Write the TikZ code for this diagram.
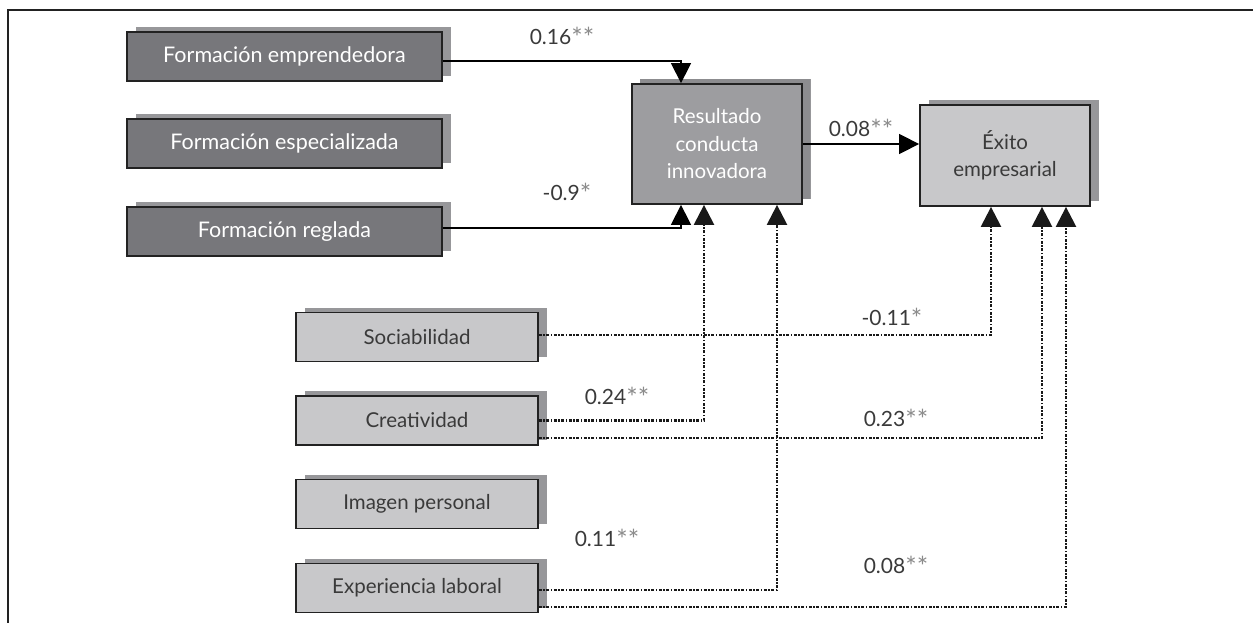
\documentclass[tikz,border=0pt]{standalone}
\usepackage{fontspec}
\setmainfont{Lato}
\usetikzlibrary{arrows.meta,calc,shadows}
\definecolor{darkfill}{HTML}{77777B}
\definecolor{midfill}{HTML}{9D9DA0}
\definecolor{lightfill}{HTML}{C8C8CA}
\definecolor{shade}{HTML}{97979A}
\definecolor{midshade}{HTML}{8C8C8F}
\definecolor{ink}{HTML}{222222}
\definecolor{txt}{HTML}{3A3A3A}
\definecolor{star}{HTML}{8A8A8A}
\newcommand\pcoef[2]{{\color{txt}#1}{\color{star}\raisebox{-2.5pt}{\fontsize{27}{27}\selectfont#2}}}
\begin{document}
\begin{tikzpicture}[x=1pt,y=-1pt,
  basebox/.style={draw=ink, line width=1.8pt, inner sep=0pt, align=center,
    font=\fontsize{20.5}{27.5}\selectfont,
    general shadow={fill=shade, shadow xshift=9pt, shadow yshift=5pt}},
  darkbox/.style={basebox, fill=darkfill, text=white, minimum width=315pt, minimum height=49pt,
    font=\fontsize{21.5}{27.5}\selectfont},
  lightbox/.style={basebox, fill=lightfill, text=txt, minimum width=242pt, minimum height=49pt},
  midbox/.style={basebox, fill=midfill, text=white, minimum width=170pt, minimum height=120pt,
    general shadow={fill=midshade, shadow xshift=8pt, shadow yshift=5pt}},
  exbox/.style={basebox, fill=lightfill, text=txt, minimum width=170pt, minimum height=101pt},
  tip/.style={-{Triangle[width=20pt,length=20pt]}},
  solidlink/.style={tip, draw=black, line width=1.4pt},
  dotlink/.style={tip, draw=black!90, line width=2.4pt,
    dash pattern=on 3pt off 1.5pt on 1.5pt off 1.5pt},
  coeflabel/.style={font=\fontsize{21}{23}\selectfont, inner sep=0pt}
]
\useasboundingbox (0,0) rectangle (1253,623);

% frame
\draw[line width=1.6pt, draw=ink] (8,623) -- (8,10) -- (1253,10);

% training variables
\node[darkbox] (emp) at (284.5,56.5) {Formación emprendedora};
\node[darkbox] (esp) at (284.5,143.5) {Formación especializada};
\node[darkbox] (reg) at (284.5,231.5) {Formación reglada};

% outcomes
\node[midbox] (res) at (717,144) {Resultado\\conducta\\innovadora};
\node[exbox] (exi) at (1005,155.5) {Éxito\\empresarial};

% personal traits
\node[lightbox] (soc) at (417,337) {Sociabilidad};
\node[lightbox] (cre) at (417,420.5) {Creatividad};
\node[lightbox] (ima) at (417,504) {Imagen personal};
\node[lightbox] (exp) at (417,588) {Experiencia laboral};

% solid paths
\draw[solidlink] ([yshift=-4.5pt]emp.east) -| ($(res.north)+(-36,0)$);
\draw[solidlink] ([yshift=3.5pt]reg.east) -| ($(res.south)+(-36,0)$);
\draw[solidlink] (res.east) -- (res.east -| exi.west);

% dotted paths
\draw[dotlink] ([yshift=2pt]soc.east) -| ($(exi.south)+(-14,0)$);
\draw[dotlink] (cre.east) -| ($(res.south)+(-13,0)$);
\draw[dotlink] ([yshift=-17.5pt]cre.east) -| ($(exi.south)+(37,0)$);
\draw[dotlink] ([yshift=-2pt]exp.east) -| ($(res.south)+(60,0)$);
\draw[dotlink] ([yshift=-19pt]exp.east) -| ($(exi.south)+(61,0)$);

% coefficients
\node[coeflabel] (c1) at (562,37) {\pcoef{0.16}{**}};
\node[coeflabel] (c2) at (567,193) {\pcoef{-0.9}{*}};
\node[coeflabel] (c3) at (861,129) {\pcoef{0.08}{**}};
\node[coeflabel] (c4) at (892,318) {\pcoef{-0.11}{*}};
\node[coeflabel] (c5) at (617,397) {\pcoef{0.24}{**}};
\node[coeflabel] (c6) at (896,419) {\pcoef{0.23}{**}};
\node[coeflabel] (c7) at (607,539) {\pcoef{0.11}{**}};
\node[coeflabel] (c8) at (896,566) {\pcoef{0.08}{**}};
\end{tikzpicture}
\end{document}
